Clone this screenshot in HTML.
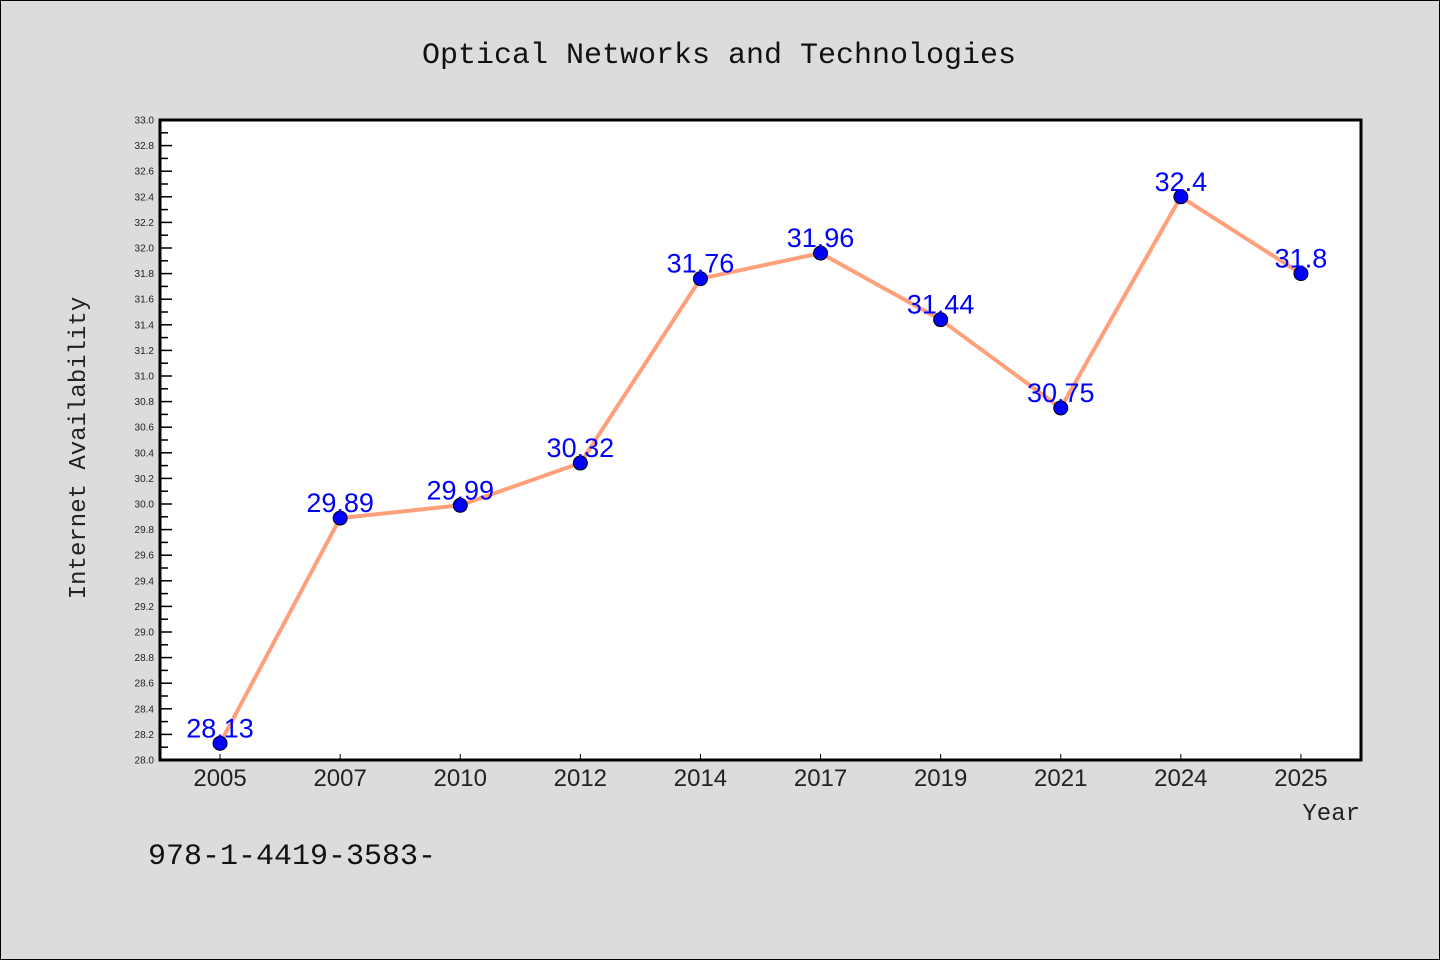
<!DOCTYPE html>
<html><head><meta charset="utf-8"><style>
body{margin:0;background:#dcdcdc;}
svg{display:block;}
</style></head><body>
<svg width="1440" height="960" xmlns="http://www.w3.org/2000/svg">
<rect x="0.5" y="0.5" width="1439" height="959" fill="#dcdcdc" stroke="#000"/>
<text x="719" y="63" text-anchor="middle" font-family="Liberation Mono, monospace" font-size="30" fill="#111">Optical Networks and Technologies</text>
<rect x="160" y="120" width="1201" height="640" fill="#fff"/>
<g id="axes"></g>
<g id="marks"></g>
<rect x="160" y="120" width="1201" height="640" fill="none" stroke="#000" stroke-width="3"/>
<text transform="translate(85,448) rotate(-90)" text-anchor="middle" font-family="Liberation Mono, monospace" font-size="24" fill="#222">Internet Availability</text>
<text x="1360" y="820" text-anchor="end" font-family="Liberation Mono, monospace" font-size="24" fill="#222">Year</text>
<text x="148" y="864" font-family="Liberation Mono, monospace" font-size="30" fill="#111">978-1-4419-3583-</text>
</svg>
<script>
const categories = ["2005","2007","2010","2012","2014","2017","2019","2021","2024","2025"];
const values = [28.13,29.89,29.99,30.32,31.76,31.96,31.44,30.75,32.4,31.8];
const labels = ["28.13","29.89","29.99","30.32","31.76","31.96","31.44","30.75","32.4","31.8"];
const yMin = 28.0, yMax = 33.0;
const NS="http://www.w3.org/2000/svg";
const L=160,R=1361,T=120,B=760;
const step=(R-L)/categories.length;
function xs(i){return L+step/2+i*step;}
function ys(v){return B-(v-yMin)/(yMax-yMin)*(B-T);}
function mk(tag,attrs,parent){const e=document.createElementNS(NS,tag);for(const k in attrs)e.setAttribute(k,attrs[k]);parent.appendChild(e);return e;}
const axes=document.getElementById('axes'), marks=document.getElementById('marks');
for(let k=0;k<=50;k++){
  const v=yMin+k*0.1; const y=ys(v); const major=k%2===0;
  const t=mk('line',{x1:L,x2:L+(major?12:8),y1:y,y2:y,stroke:'#000','stroke-width':1.5},axes);
  
  
  if(major){
    const tx=mk('text',{x:L-6,y:y+3.5,'text-anchor':'end','font-family':'WenQuanYi Zen Hei, Liberation Sans, sans-serif','font-size':10,fill:'#222'},axes);
    tx.textContent=v.toFixed(1);
    
    
  }
}
categories.forEach((c,i)=>{
  const x=xs(i);
  const t=mk('line',{x1:x,x2:x,y1:B,y2:B-6,stroke:'#000','stroke-width':1},axes);
  
  
  const tx=mk('text',{x:x,y:B+26,'text-anchor':'middle','font-family':'WenQuanYi Zen Hei, Liberation Sans, sans-serif','font-size':24,fill:'#222'},axes);
  tx.textContent=c;
  
  
});
const pts=values.map((v,i)=>xs(i)+','+ys(v)).join(' ');
const line=mk('polyline',{points:pts,fill:'none',stroke:'#ffa07a','stroke-width':4,'stroke-linejoin':'round'},marks);


values.forEach((v,i)=>{
  const c=mk('circle',{cx:xs(i),cy:ys(v),r:7,fill:'#0000ff',stroke:'#000','stroke-width':1},marks);
  
  
  const t=mk('text',{x:xs(i),y:ys(v)-6,'text-anchor':'middle','font-family':'WenQuanYi Zen Hei, Liberation Sans, sans-serif','font-size':27,fill:'#0000ff'},marks);
  t.textContent=labels[i];
  
  
});
</script>
</body></html>
